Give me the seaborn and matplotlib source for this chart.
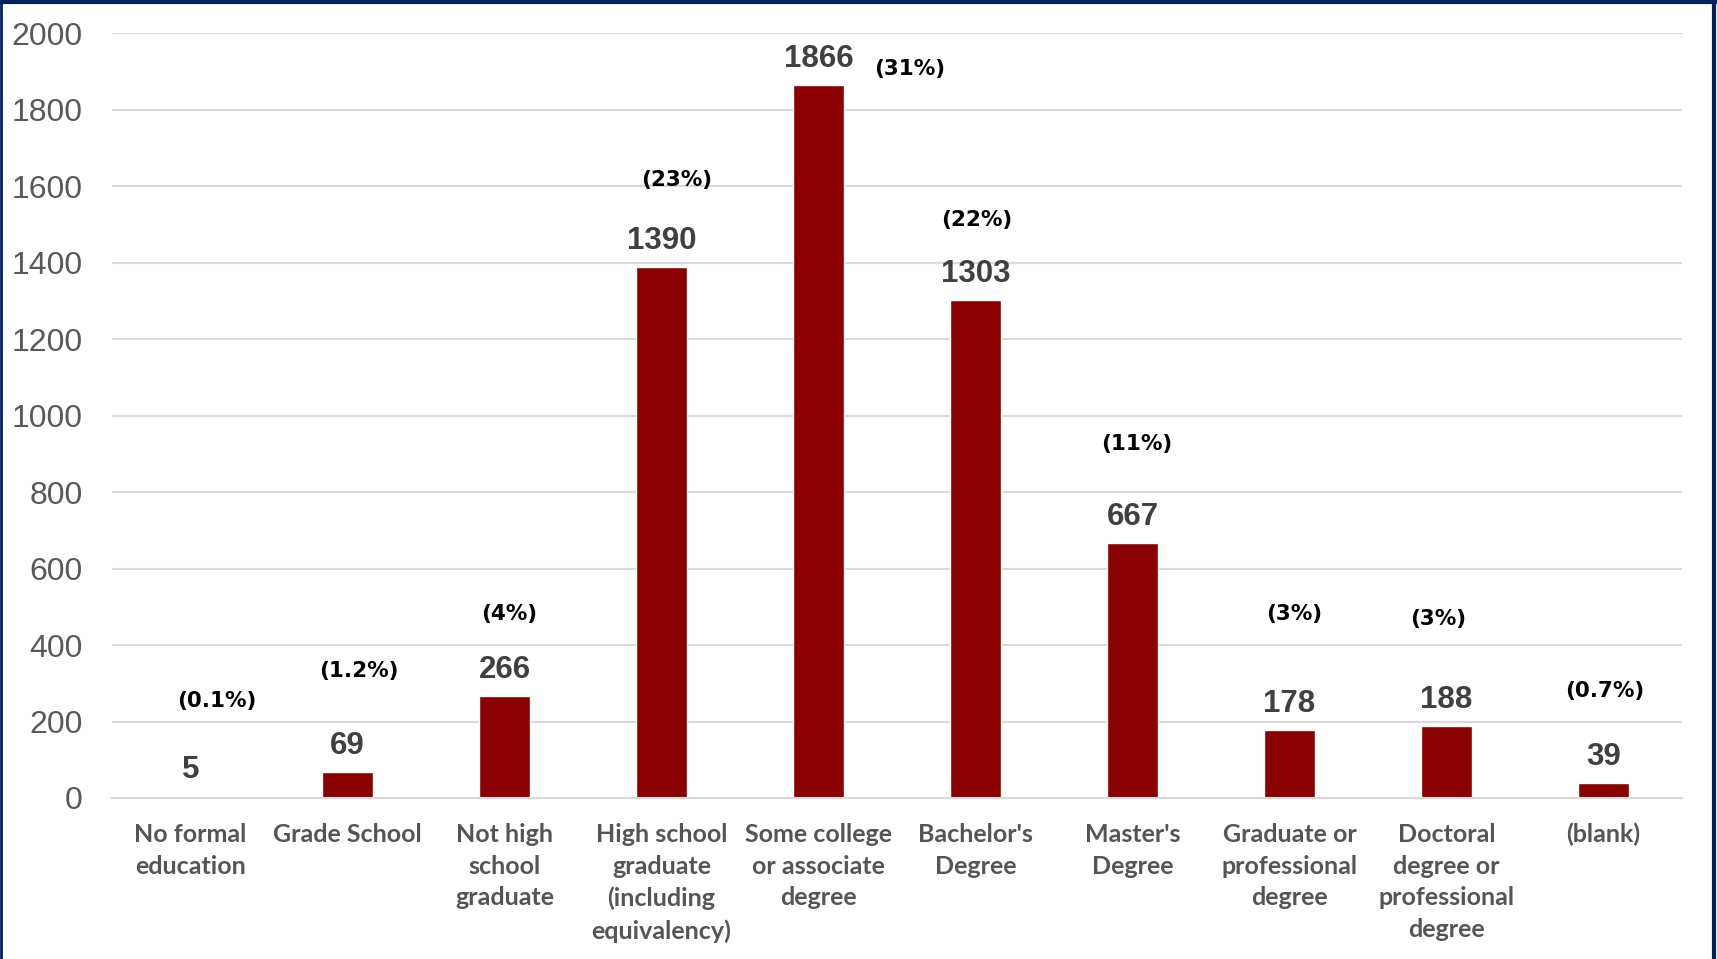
import matplotlib
matplotlib.use("Agg")
import matplotlib.pyplot as plt
import matplotlib.lines as mlines
import seaborn as sns
import pandas as pd

# ---- data ----
categories = [
    "No formal\neducation",
    "Grade School",
    "Not high\nschool\ngraduate",
    "High school\ngraduate\n(including\nequivalency)",
    "Some college\nor associate\ndegree",
    "Bachelor's\nDegree",
    "Master's\nDegree",
    "Graduate or\nprofessional\ndegree",
    "Doctoral\ndegree or\nprofessional\ndegree",
    "(blank)",
]
counts = [5, 69, 266, 1390, 1866, 1303, 667, 178, 188, 39]
pct_labels = ["(0.1%)", "(1.2%)", "(4%)", "(23%)", "(31%)", "(22%)", "(11%)", "(3%)", "(3%)", "(0.7%)"]

# hand placed percent labels (offset from top of bar, data units)
pct_dx = [0.17, 0.07, 0.03, 0.10, 0.58, 0.01, 0.03, 0.03, -0.05, 0.01]
pct_dy = [250, 264, 216, 227, 40, 208, 259, 304, 279, 242]

df = pd.DataFrame({"category": categories, "count": counts})

sns.set_style("white")
bar_color = "#8B0000"
grid_color = "#d9d9d9"

fig = plt.figure(figsize=(17.17, 9.59), dpi=100)
ax = fig.add_axes([0.0652, 0.1679, 0.9144, 0.7972])

sns.barplot(data=df, x="category", y="count", color=bar_color, width=0.32,
            saturation=1, ax=ax)

ax.set_xlim(-0.5, len(categories) - 0.5)
ax.set_ylim(0, 2000)
ax.set_yticks(range(0, 2001, 200))
ax.yaxis.grid(True, color=grid_color, linewidth=1.5)
ax.set_axisbelow(True)
for side in ["top", "right", "left"]:
    ax.spines[side].set_visible(False)
ax.spines["bottom"].set_color(grid_color)
ax.spines["bottom"].set_linewidth(1.5)

ax.set_xlabel("")
ax.set_ylabel("")
ax.tick_params(axis="y", length=0, pad=21, labelsize=23, labelcolor="#595959")
ax.tick_params(axis="x", length=0, pad=18)
for lab in ax.get_yticklabels():
    lab.set_fontfamily("Liberation Sans")
for lab in ax.get_xticklabels():
    lab.set_fontfamily("Lato")
    lab.set_fontweight("bold")
    lab.set_fontsize(18)
    lab.set_color("#555555")
    lab.set_linespacing(1.46)

# value labels above bars
for i, v in enumerate(counts):
    ax.annotate(str(v), xy=(i, v), xytext=(0, 18.7), textcoords="offset points",
                ha="center", va="center", fontsize=22.5, fontweight="bold",
                color="#404040", family="Liberation Sans")

# percentage labels
for i, (v, p) in enumerate(zip(counts, pct_labels)):
    ax.text(i + pct_dx[i], v + pct_dy[i], p, ha="center", va="center",
            fontsize=15.5, fontweight="bold", color="black", family="DejaVu Sans")

# dark navy frame on top, left and right
navy = "#002060"
fig.add_artist(mlines.Line2D([0, 1], [0.998, 0.998], transform=fig.transFigure, color=navy, linewidth=3))
fig.add_artist(mlines.Line2D([0.0008, 0.0008], [0, 1], transform=fig.transFigure, color=navy, linewidth=2))
fig.add_artist(mlines.Line2D([0.9985, 0.9985], [0, 1], transform=fig.transFigure, color=navy, linewidth=3))

plt.savefig("out.png", dpi=100)
